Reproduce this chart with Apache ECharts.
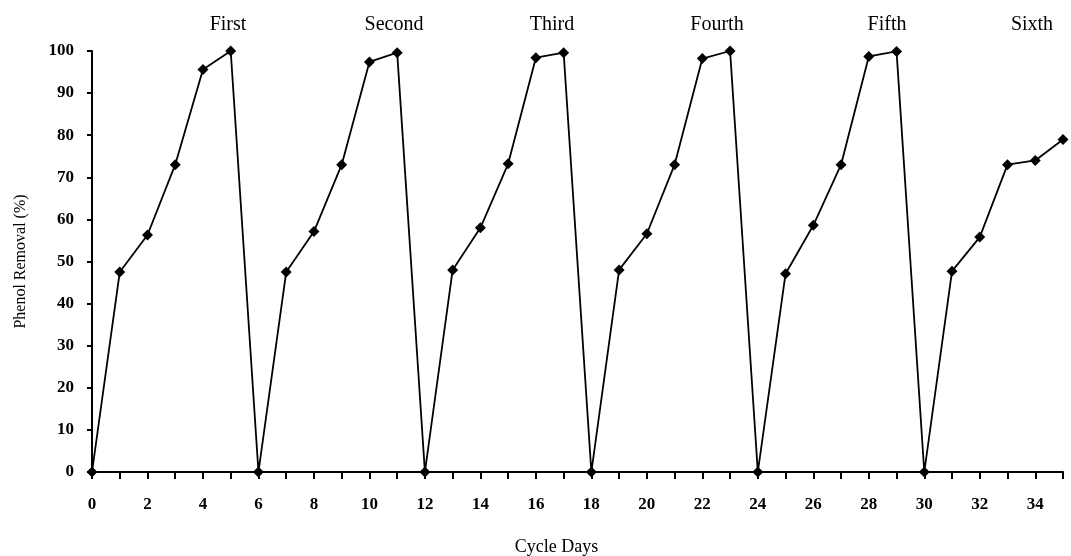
<!DOCTYPE html>
<html>
<head>
<meta charset="utf-8">
<script src="https://cdn.jsdelivr.net/npm/echarts@6/dist/echarts.min.js"></script>
<style>
html,body{margin:0;padding:0;background:#fff;}
#chart{width:1071px;height:556px;}
</style>
</head>
<body>
<div id="chart"></div>
<script>
// Cycle days (x) and phenol removal (%) (y)
const days = [0,1,2,3,4,5,6,7,8,9,10,11,12,13,14,15,16,17,18,19,20,21,22,23,24,25,26,27,28,29,30,31,32,33,34,35];
const removal = [
  0, 47.5, 56.3, 73.0, 95.6, 100,
  0, 47.5, 57.1, 73.0, 97.4, 99.6,
  0, 48.0, 58.0, 73.2, 98.4, 99.6,
  0, 48.0, 56.6, 73.0, 98.2, 100,
  0, 47.1, 58.6, 73.0, 98.7, 99.9,
  0, 47.7, 55.8, 73.0, 74.0, 79.0
];
const cycleLabels = ['First','Second','Third','Fourth','Fifth','Sixth'];
const cycleLabelX = [228, 394, 552, 717, 887, 1032]; // layout (pixel centres)

const serif = '"Liberation Serif", "DejaVu Serif", serif';
const chart = echarts.init(document.getElementById('chart'), null, {renderer:'canvas'});

chart.setOption({
  backgroundColor: '#fff',
  animation: false,
  grid: {left: 92, right: 8, top: 51, bottom: 84, containLabel: false, outerBoundsMode: 'none'},
  xAxis: {
    type: 'value', min: 0, max: 35, interval: 1,
    name: 'Cycle Days', nameLocation: 'middle', nameGap: 66,
    nameTextStyle: {fontFamily: serif, fontSize: 18, color: '#000', padding: [0, 42, 0, 0]},
    axisLine: {show: true, lineStyle: {color: '#000', width: 2}},
    axisTick: {show: true, length: 7, inside: false, lineStyle: {color: '#000', width: 2}},
    axisLabel: {
      margin: 24, fontFamily: serif, fontSize: 17, fontWeight: 'bold', color: '#000',
      formatter: v => (v % 2 === 0 && v < 35) ? String(v) : ''
    },
    splitLine: {show: false}
  },
  yAxis: {
    type: 'value', min: 0, max: 100, interval: 10,
    name: 'Phenol Removal (%)', nameLocation: 'middle', nameGap: 63, nameRotate: 90,
    nameTextStyle: {fontFamily: serif, fontSize: 16, color: '#000'},
    axisLine: {show: true, lineStyle: {color: '#000', width: 2}},
    axisTick: {show: true, length: 5, inside: false, lineStyle: {color: '#000', width: 2}},
    axisLabel: {margin: 18, fontFamily: serif, fontSize: 17, fontWeight: 'bold', color: '#000'},
    splitLine: {show: false}
  },
  series: [{
    type: 'line',
    data: days.map((d, i) => [d, removal[i]]),
    symbol: 'diamond', symbolSize: 11,
    itemStyle: {color: '#000'},
    lineStyle: {color: '#000', width: 1.8},
    clip: false
  }],
  graphic: cycleLabels.map((t, i) => ({
    type: 'text', x: cycleLabelX[i], y: 25,
    style: {text: t, fontFamily: serif, fontSize: 20, fill: '#000', textAlign: 'center', textVerticalAlign: 'middle'}
  }))
});
</script>
</body>
</html>
